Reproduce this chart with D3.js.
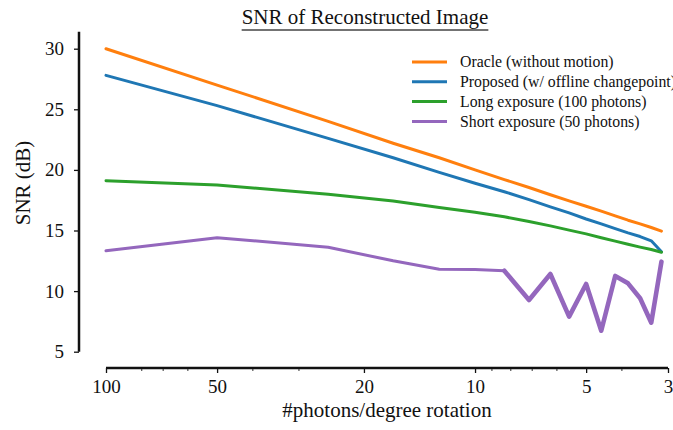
<!DOCTYPE html>
<html>
<head>
<meta charset="utf-8">
<script src="https://cdn.jsdelivr.net/npm/d3@7"></script>
<style>
  body { margin: 0; background: #fff; }
  svg { display: block; }
  text { font-family: "Liberation Serif", "Times New Roman", serif; fill: #111; }
</style>
</head>
<body>
<svg id="chart" width="673" height="430"></svg>
<script>
// Photon budget per degree of rotation (x) and SNR in dB for each method
const photons = [100, 50, 25, 16.67, 12.5, 10, 8.33, 7.14, 6.25, 5.56, 5, 4.55, 4.17, 3.85, 3.57, 3.33, 3.125];
const oracle   = [30.0, 27.0, 24.0, 22.2, 21.0, 20.0, 19.2, 18.55, 17.95, 17.45, 17.0, 16.6, 16.2, 15.85, 15.55, 15.25, 14.95];
const proposed = [27.8, 25.3, 22.6, 21.0, 19.8, 18.9, 18.2, 17.55, 16.95, 16.45, 15.95, 15.55, 15.15, 14.8, 14.5, 14.15, 13.25];
const longExp  = [19.1, 18.75, 18.0, 17.43, 16.9, 16.5, 16.13, 15.75, 15.38, 15.03, 14.72, 14.4, 14.12, 13.86, 13.63, 13.43, 13.2];
const shortExp = [13.33, 14.41, 13.62, 12.5, 11.8, 11.78, 11.68, 9.27, 11.41, 7.89, 10.59, 6.73, 11.25, 10.64, 9.41, 7.39, 12.43];

const seriesNames  = ["Oracle (without motion)", "Proposed (w/ offline changepoint)", "Long exposure (100 photons)", "Short exposure (50 photons)"];
const seriesColors = ["#ff7f0e", "#1f77b4", "#2ca02c", "#9467bd"];
const seriesValues = [oracle, proposed, longExp, shortExp];

const xMajorTicks = [100, 50, 20, 10, 5, 3];
const xMinorTicks = [80, 70, 60, 40, 30, 9, 8, 7, 6, 4];
const yTicks = [5, 10, 15, 20, 25, 30];

const svg = d3.select("#chart");

const x = d3.scaleLog().domain([100, 3]).range([106, 668]);
const y = d3.scaleLinear().domain([5, 30]).range([351.7, 48.7]);

const axisY = 368, axisX = 79;

// ---- x axis (detached spine) ----
const gx = svg.append("g").attr("transform", `translate(0,${axisY})`);
gx.call(d3.axisBottom(x).tickValues(xMajorTicks).tickFormat(d => String(d)).tickSize(5).tickPadding(7))
  .call(g => g.select(".domain").remove());
gx.selectAll(".tick line").attr("stroke", "#111").attr("stroke-width", 1.3);
gx.selectAll(".tick text").style("font-size", "19px").attr("fill", "#111");
gx.selectAll(".minor").data(xMinorTicks).enter().append("line")
  .attr("class", "minor")
  .attr("x1", d => x(d)).attr("x2", d => x(d))
  .attr("y1", 0).attr("y2", 3)
  .attr("stroke", "#333").attr("stroke-width", 1);
gx.append("line")
  .attr("x1", x(100)).attr("x2", x(3))
  .attr("y1", 0).attr("y2", 0)
  .attr("stroke", "#111").attr("stroke-width", 2.5);

// ---- y axis (detached spine) ----
const gy = svg.append("g").attr("transform", `translate(${axisX},0)`);
gy.call(d3.axisLeft(y).tickValues(yTicks).tickSize(5).tickPadding(10))
  .call(g => g.select(".domain").remove());
gy.selectAll(".tick line").attr("stroke", "#111").attr("stroke-width", 1.3);
gy.selectAll(".tick text").style("font-size", "19px").attr("fill", "#111");
gy.append("line")
  .attr("x1", 0).attr("x2", 0)
  .attr("y1", y(5)).attr("y2", y(31.4))
  .attr("stroke", "#111").attr("stroke-width", 2.5);

// ---- axis labels ----
svg.append("text")
  .attr("x", (x(100) + x(3)) / 2).attr("y", 417)
  .attr("text-anchor", "middle")
  .style("font-size", "21px")
  .text("#photons/degree rotation");

svg.append("text")
  .attr("transform", "translate(30,183) rotate(-90)")
  .attr("text-anchor", "middle")
  .style("font-size", "21px")
  .text("SNR (dB)");

// ---- title with underline ----
const title = svg.append("text")
  .attr("x", 365).attr("y", 24)
  .attr("text-anchor", "middle")
  .style("font-size", "21px")
  .text("SNR of Reconstructed Image");
const tw = title.node().getComputedTextLength();
svg.append("line")
  .attr("x1", 365 - tw / 2).attr("x2", 365 + tw / 2)
  .attr("y1", 30).attr("y2", 30)
  .attr("stroke", "#444").attr("stroke-width", 1.6);

// ---- series lines ----
const line = d3.line()
  .x(d => x(d[0]))
  .y(d => y(d[1]));

seriesValues.forEach((vals, i) => {
  const pts = photons.map((p, j) => [p, vals[j]]);
  svg.append("path")
    .attr("d", line(pts))
    .attr("fill", "none")
    .attr("stroke", seriesColors[i])
    .attr("stroke-width", 3)
    .attr("stroke-linejoin", "round")
    .attr("stroke-linecap", "round");
});

// heavier stroke over the oscillating tail of the short-exposure curve
const tailStart = photons.indexOf(8.33);
const tail = photons.slice(tailStart).map((p, j) => [p, shortExp[tailStart + j]]);
svg.append("path")
  .attr("d", line(tail))
  .attr("fill", "none")
  .attr("stroke", seriesColors[3])
  .attr("stroke-width", 4.6)
  .attr("stroke-linejoin", "round")
  .attr("stroke-linecap", "round");

// ---- legend ----
const legend = svg.append("g");
seriesNames.forEach((name, i) => {
  const ly = 62 + i * 19.8;
  legend.append("line")
    .attr("x1", 412).attr("x2", 447)
    .attr("y1", ly).attr("y2", ly)
    .attr("stroke", seriesColors[i]).attr("stroke-width", 3);
  legend.append("text")
    .attr("x", 460).attr("y", ly + 5.3)
    .style("font-size", "15.8px")
    .text(name);
});
</script>
</body>
</html>
